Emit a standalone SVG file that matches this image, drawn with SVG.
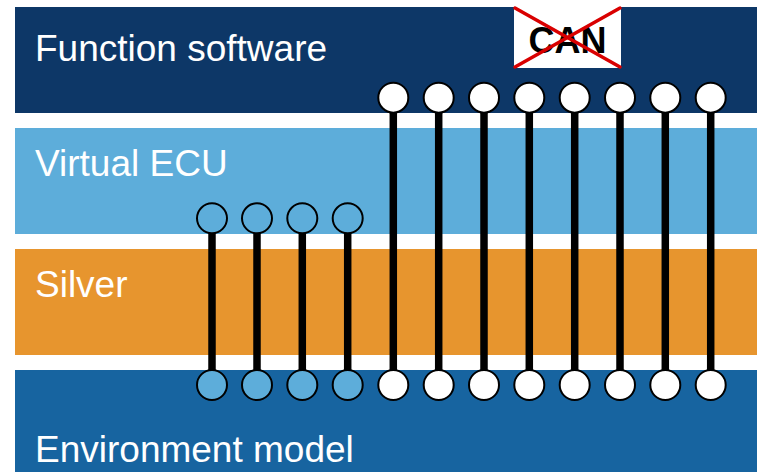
<svg xmlns="http://www.w3.org/2000/svg" width="760" height="472" viewBox="0 0 760 472">
<style>
.lbl{font-family:"Liberation Sans",Arial,sans-serif;font-size:37px;fill:#fff}
.can{font-family:"Liberation Sans",Arial,sans-serif;font-size:36px;font-weight:bold;fill:#000}
.wire{stroke:#000;stroke-width:7.5}
.pw{fill:#fff;stroke:#000;stroke-width:2}
.pb{fill:#5DADDA;stroke:#000;stroke-width:2}
.x{stroke:#D90000;stroke-width:3.5;stroke-linecap:round}
</style>
<rect width="760" height="472" fill="#fff"/>
<g id="function-software">
<rect x="15" y="7" width="742" height="106" fill="#0D3767"/>
<text class="lbl" x="35" y="61">Function software</text>
</g>
<g id="virtual-ecu">
<rect x="15" y="128" width="742" height="106" fill="#5DADDA"/>
<text class="lbl" x="35" y="176">Virtual ECU</text>
</g>
<g id="silver">
<rect x="15" y="249" width="742" height="106" fill="#E7952E"/>
<text class="lbl" x="35" y="297">Silver</text>
</g>
<g id="environment-model">
<rect x="15" y="370" width="742" height="102" fill="#1764A0"/>
<text class="lbl" x="35" y="462">Environment model</text>
</g>
<g id="can">
<rect x="514" y="7" width="107" height="61" fill="#fff"/>
<text class="can" x="567.5" y="53" text-anchor="middle">CAN</text>
<line class="x" x1="515" y1="8" x2="620" y2="67"/>
<line class="x" x1="620" y1="8" x2="515" y2="67"/>
</g>
<g id="connectors">
<line class="wire" x1="212" y1="218" x2="212" y2="385"/>
<line class="wire" x1="257" y1="218" x2="257" y2="385"/>
<line class="wire" x1="302.3" y1="218" x2="302.3" y2="385"/>
<line class="wire" x1="347.7" y1="218" x2="347.7" y2="385"/>
<line class="wire" x1="393.3" y1="97.7" x2="393.3" y2="385"/>
<line class="wire" x1="438.7" y1="97.7" x2="438.7" y2="385"/>
<line class="wire" x1="484" y1="97.7" x2="484" y2="385"/>
<line class="wire" x1="529.3" y1="97.7" x2="529.3" y2="385"/>
<line class="wire" x1="574.7" y1="97.7" x2="574.7" y2="385"/>
<line class="wire" x1="620" y1="97.7" x2="620" y2="385"/>
<line class="wire" x1="665.3" y1="97.7" x2="665.3" y2="385"/>
<line class="wire" x1="710.7" y1="97.7" x2="710.7" y2="385"/>
</g>
<g id="ports-virtual-ecu">
<circle class="pb" cx="212" cy="218.3" r="15"/>
<circle class="pb" cx="257" cy="218.3" r="15"/>
<circle class="pb" cx="302.3" cy="218.3" r="15"/>
<circle class="pb" cx="347.7" cy="218.3" r="15"/>
</g>
<g id="ports-function-software">
<circle class="pw" cx="393.3" cy="97.7" r="15"/>
<circle class="pw" cx="438.7" cy="97.7" r="15"/>
<circle class="pw" cx="484" cy="97.7" r="15"/>
<circle class="pw" cx="529.3" cy="97.7" r="15"/>
<circle class="pw" cx="574.7" cy="97.7" r="15"/>
<circle class="pw" cx="620" cy="97.7" r="15"/>
<circle class="pw" cx="665.3" cy="97.7" r="15"/>
<circle class="pw" cx="710.7" cy="97.7" r="15"/>
</g>
<g id="ports-environment">
<circle class="pb" cx="212" cy="385" r="15"/>
<circle class="pb" cx="257" cy="385" r="15"/>
<circle class="pb" cx="302.3" cy="385" r="15"/>
<circle class="pb" cx="347.7" cy="385" r="15"/>
<circle class="pw" cx="393.3" cy="385" r="15"/>
<circle class="pw" cx="438.7" cy="385" r="15"/>
<circle class="pw" cx="484" cy="385" r="15"/>
<circle class="pw" cx="529.3" cy="385" r="15"/>
<circle class="pw" cx="574.7" cy="385" r="15"/>
<circle class="pw" cx="620" cy="385" r="15"/>
<circle class="pw" cx="665.3" cy="385" r="15"/>
<circle class="pw" cx="710.7" cy="385" r="15"/>
</g>
</svg>
